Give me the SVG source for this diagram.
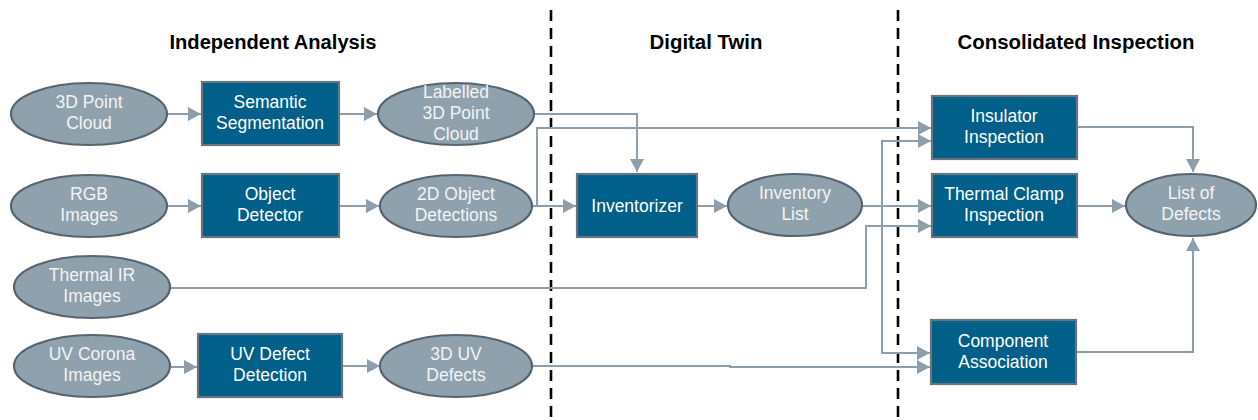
<svg xmlns="http://www.w3.org/2000/svg" width="1258" height="420" viewBox="0 0 1258 420">
<style>
.bg{fill:#ffffff}
.ell{fill:#8fa1ad;stroke:#56656f;stroke-width:2.2}
.box{fill:#00608a;stroke:#66757f;stroke-width:2.2}
.t{font-family:"Liberation Sans",Arial,sans-serif;font-size:17.5px;fill:#ffffff;text-anchor:middle}
.te{fill:#f2f4f5}
.h{font-family:"Liberation Sans",Arial,sans-serif;font-size:20px;font-weight:bold;fill:#000000;text-anchor:middle}
.dash{stroke:#000000;stroke-width:2.6;stroke-dasharray:11 7;fill:none}
.c{fill:none;stroke:#8d9fac;stroke-width:2}
</style>
<defs>
<marker id="arr" markerUnits="userSpaceOnUse" markerWidth="14" markerHeight="14" refX="13" refY="7" orient="auto">
<path d="M0,0 L13,7 L0,14 z" fill="#8d9fac"/>
</marker>
</defs>
<rect class="bg" x="0" y="0" width="1258" height="420"/>

<g id="section-headings">
<text class="h" x="273" y="49" textLength="207" lengthAdjust="spacingAndGlyphs">Independent Analysis</text>
<text class="h" x="706" y="49" textLength="113" lengthAdjust="spacingAndGlyphs">Digital Twin</text>
<text class="h" x="1076" y="49" textLength="237" lengthAdjust="spacingAndGlyphs">Consolidated Inspection</text>
</g>
<g id="separators">
<line class="dash" x1="551" y1="10" x2="551" y2="420"/>
<line class="dash" x1="898" y1="10" x2="898" y2="420"/>
</g>

<g id="connectors">
<path class="c" d="M167,114 H201" marker-end="url(#arr)"/>
<path class="c" d="M339,114 H377" marker-end="url(#arr)"/>
<path class="c" d="M167,206 H201" marker-end="url(#arr)"/>
<path class="c" d="M339,206 H379" marker-end="url(#arr)"/>
<path class="c" d="M534,114 H637 V172" marker-end="url(#arr)"/>
<path class="c" d="M531,206 H576" marker-end="url(#arr)"/>
<path class="c" d="M537,206 V128 H931" marker-end="url(#arr)"/>
<path class="c" d="M697,206 H727" marker-end="url(#arr)"/>
<path class="c" d="M863,206 H931" marker-end="url(#arr)"/>
<path class="c" d="M882,206 V141 H931" marker-end="url(#arr)"/>
<path class="c" d="M882,206 V353 H930" marker-end="url(#arr)"/>
<path class="c" d="M170,288 H866 V226 H931" marker-end="url(#arr)"/>
<path class="c" d="M170,367 H197" marker-end="url(#arr)"/>
<path class="c" d="M342,366 H380" marker-end="url(#arr)"/>
<path class="c" d="M532,366 H730 V367 H930" marker-end="url(#arr)"/>
<path class="c" d="M1077,127 H1193 V172" marker-end="url(#arr)"/>
<path class="c" d="M1077,206 H1125" marker-end="url(#arr)"/>
<path class="c" d="M1076,352 H1193 V238" marker-end="url(#arr)"/>
</g>

<g id="n-3d-point-cloud">
<ellipse class="ell" cx="89" cy="114" rx="78" ry="31"/>
<text class="t te" x="89" y="108">3D Point</text>
<text class="t te" x="89" y="129">Cloud</text>
</g>
<g id="n-rgb-images">
<ellipse class="ell" cx="89" cy="206" rx="78" ry="31"/>
<text class="t te" x="89" y="200">RGB</text>
<text class="t te" x="89" y="221">Images</text>
</g>
<g id="n-thermal-ir">
<ellipse class="ell" cx="92" cy="287" rx="78" ry="31"/>
<text class="t te" x="92" y="281">Thermal IR</text>
<text class="t te" x="92" y="302">Images</text>
</g>
<g id="n-uv-corona">
<ellipse class="ell" cx="92" cy="366" rx="78" ry="31"/>
<text class="t te" x="92" y="360">UV Corona</text>
<text class="t te" x="92" y="381">Images</text>
</g>

<g id="n-semantic-segmentation">
<rect class="box" x="202" y="82" width="137" height="63"/>
<text class="t" x="270" y="108">Semantic</text>
<text class="t" x="270" y="129">Segmentation</text>
</g>
<g id="n-object-detector">
<rect class="box" x="202" y="174" width="137" height="63"/>
<text class="t" x="270" y="200">Object</text>
<text class="t" x="270" y="221">Detector</text>
</g>
<g id="n-uv-defect-detection">
<rect class="box" x="198" y="334" width="144" height="63"/>
<text class="t" x="270" y="360">UV Defect</text>
<text class="t" x="270" y="381">Detection</text>
</g>

<g id="n-labelled-3d-point-cloud">
<ellipse class="ell" cx="456" cy="114" rx="78" ry="31"/>
<text class="t te" x="456" y="98">Labelled</text>
<text class="t te" x="456" y="119">3D Point</text>
<text class="t te" x="456" y="140">Cloud</text>
</g>
<g id="n-2d-object-detections">
<ellipse class="ell" cx="456" cy="206" rx="76" ry="31"/>
<text class="t te" x="456" y="200">2D Object</text>
<text class="t te" x="456" y="221">Detections</text>
</g>
<g id="n-3d-uv-defects">
<ellipse class="ell" cx="456" cy="366" rx="76" ry="31"/>
<text class="t te" x="456" y="360">3D UV</text>
<text class="t te" x="456" y="381">Defects</text>
</g>

<g id="n-inventorizer">
<rect class="box" x="577" y="174" width="120" height="63"/>
<text class="t" x="637" y="212">Inventorizer</text>
</g>
<g id="n-inventory-list">
<ellipse class="ell" cx="795" cy="205" rx="67" ry="31"/>
<text class="t te" x="795" y="199">Inventory</text>
<text class="t te" x="795" y="220">List</text>
</g>

<g id="n-insulator-inspection">
<rect class="box" x="932" y="96" width="145" height="63"/>
<text class="t" x="1004" y="122">Insulator</text>
<text class="t" x="1004" y="143">Inspection</text>
</g>
<g id="n-thermal-clamp-inspection">
<rect class="box" x="932" y="174" width="145" height="63"/>
<text class="t" x="1004" y="200">Thermal Clamp</text>
<text class="t" x="1004" y="221">Inspection</text>
</g>
<g id="n-component-association">
<rect class="box" x="931" y="320" width="145" height="64"/>
<text class="t" x="1003" y="347">Component</text>
<text class="t" x="1003" y="368">Association</text>
</g>
<g id="n-list-of-defects">
<ellipse class="ell" cx="1191" cy="205" rx="65" ry="31"/>
<text class="t te" x="1191" y="199">List of</text>
<text class="t te" x="1191" y="220">Defects</text>
</g>
</svg>
